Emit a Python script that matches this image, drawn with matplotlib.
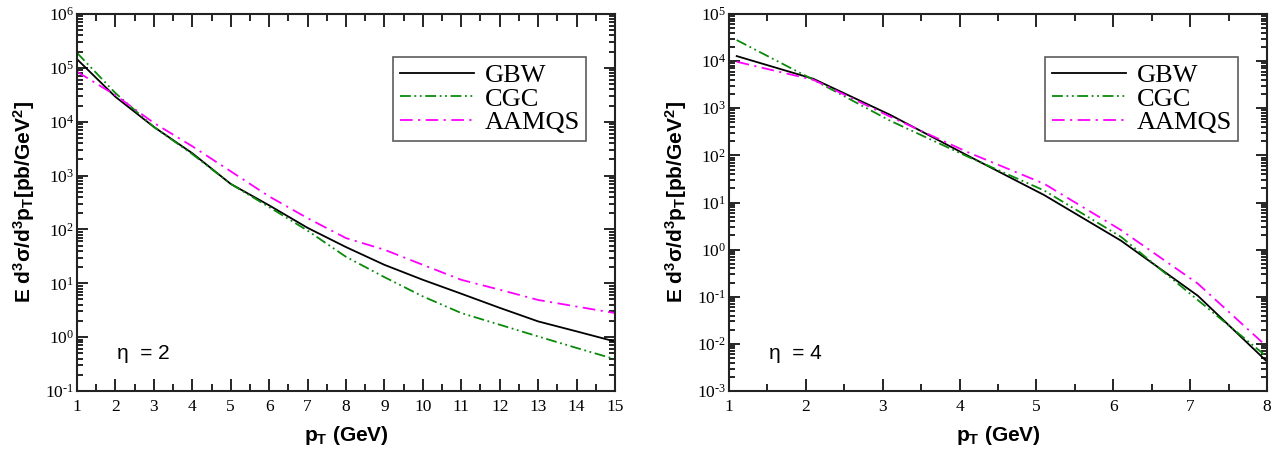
import matplotlib
matplotlib.use("Agg")
import matplotlib.pyplot as plt
from matplotlib.ticker import LogLocator, MultipleLocator, NullFormatter, FuncFormatter
import math

plt.rcParams['mathtext.fontset'] = 'custom'
plt.rcParams['mathtext.rm'] = 'Liberation Serif'
plt.rcParams['mathtext.bf'] = 'Liberation Sans:bold'
plt.rcParams['mathtext.it'] = 'Liberation Serif:italic'

# ---- data: eta = 2 panel ----
pt_eta2 = [1, 2, 3, 4, 5, 6, 7, 8, 9, 10, 11, 12, 13, 14, 15]
gbw_eta2 = [1.45e5, 2.9e4, 8.0e3, 2.6e3, 700, 280, 107, 47, 22, 11.6, 6.4, 3.5, 1.96, 1.28, 0.83]
cgc_eta2 = [1.9e5, 3.4e4, 8.0e3, 2.5e3, 700, 260, 95, 31, 13, 5.7, 2.8, 1.7, 1.03, 0.63, 0.39]
aamqs_eta2 = [8.5e4, 3.1e4, 9.5e3, 3.5e3, 1.2e3, 410, 162, 69, 42, 22, 11.6, 7.6, 4.9, 3.7, 2.8]

# ---- data: eta = 4 panel ----
pt_eta4 = [1.1, 2.1, 3.1, 4.1, 5.1, 6.1, 7.1, 8.0]
gbw_eta4 = [1.28e4, 4.2e3, 720, 100, 14.4, 1.55, 0.105, 0.0042]
cgc_eta4 = [2.8e4, 4.0e3, 540, 95, 18, 1.87, 0.085, 0.0053]
aamqs_eta4 = [9.7e3, 4.0e3, 660, 118, 25, 2.6, 0.19, 0.0087]

series_names = ['GBW', 'CGC', 'AAMQS']

W, H = 1279, 454
fig = plt.figure(figsize=(W / 100, H / 100), dpi=100)

ax1 = fig.add_axes([77 / W, 63 / H, 538 / W, 377 / H])
ax2 = fig.add_axes([729 / W, 63 / H, 538 / W, 377 / H])

styles = [
    dict(color='black', linestyle='-', lw=1.3),
    dict(color='#0a8a0a', linestyle=(0, (6, 2, 1, 2, 1, 2)), lw=1.3),
    dict(color='#ff00ff', linestyle=(0, (7, 3, 1.2, 3)), lw=1.3),
]

def sup_fmt(v, pos):
    e = int(round(math.log10(v)))
    es = str(e).replace('-', r'\text{-}')
    return r'$\mathregular{10^{%s}}$' % es

def setup(ax, xlim, ylim, xmajor, eta_text):
    ax.set_yscale('log')
    ax.set_xlim(*xlim)
    ax.set_ylim(*ylim)
    ax.xaxis.set_major_locator(MultipleLocator(xmajor))
    ax.xaxis.set_minor_locator(MultipleLocator(xmajor / 2))
    ax.yaxis.set_major_locator(LogLocator(base=10, numticks=20))
    ax.yaxis.set_minor_locator(LogLocator(base=10, subs=range(2, 10), numticks=20))
    ax.yaxis.set_minor_formatter(NullFormatter())
    ax.yaxis.set_major_formatter(FuncFormatter(sup_fmt))
    ax.tick_params(which='both', direction='in', top=True, right=True, width=1.2,
                   labelsize=12.5)
    ax.tick_params(which='major', axis='x', length=9)
    ax.tick_params(which='minor', axis='x', length=5)
    ax.tick_params(which='major', axis='y', length=8)
    ax.tick_params(which='minor', axis='y', length=4)
    ax.tick_params(axis='x', pad=6)
    ax.tick_params(axis='y', pad=2)
    for lab in ax.get_xticklabels() + ax.get_yticklabels():
        lab.set_family('Liberation Serif')
    for s in ax.spines.values():
        s.set_linewidth(1.5)
        s.set_color('#222222')
    ax.set_xlabel(r'p$_\mathbf{T}$ (GeV)', fontsize=15, fontweight='bold',
                  family='Liberation Sans', labelpad=6)
    ax.set_ylabel(r'E d$^\mathbf{3}$$\mathbf{\sigma}$/d$^\mathbf{3}$p$_\mathbf{T}$[pb/GeV$^\mathbf{2}$]',
                  fontsize=15, fontweight='bold', family='Liberation Sans', labelpad=6)
    ax.text(0.075, 0.10, eta_text, transform=ax.transAxes, fontsize=15,
            family='Liberation Sans', va='center', ha='left')

setup(ax1, (1, 15), (1e-1, 1e6), 1, '\u03b7  = 2')
setup(ax2, (1, 8), (1e-3, 1e5), 1, '\u03b7  = 4')

for ax, xs, ys in [(ax1, pt_eta2, [gbw_eta2, cgc_eta2, aamqs_eta2]),
                   (ax2, pt_eta4, [gbw_eta4, cgc_eta4, aamqs_eta4])]:
    for name, y, st in zip(series_names, ys, styles):
        ax.plot(xs, y, label=name, **st)
    leg = ax.legend(loc='upper right', bbox_to_anchor=(0.947, 0.886), frameon=True,
                    fancybox=False, edgecolor='#333333', handlelength=2.8,
                    handletextpad=0.42, borderpad=0.25, labelspacing=0.0,
                    borderaxespad=0.0,
                    prop={'family': 'Liberation Serif', 'size': 19})
    leg.get_frame().set_linewidth(1.2)

fig.savefig('out.png', dpi=100)
